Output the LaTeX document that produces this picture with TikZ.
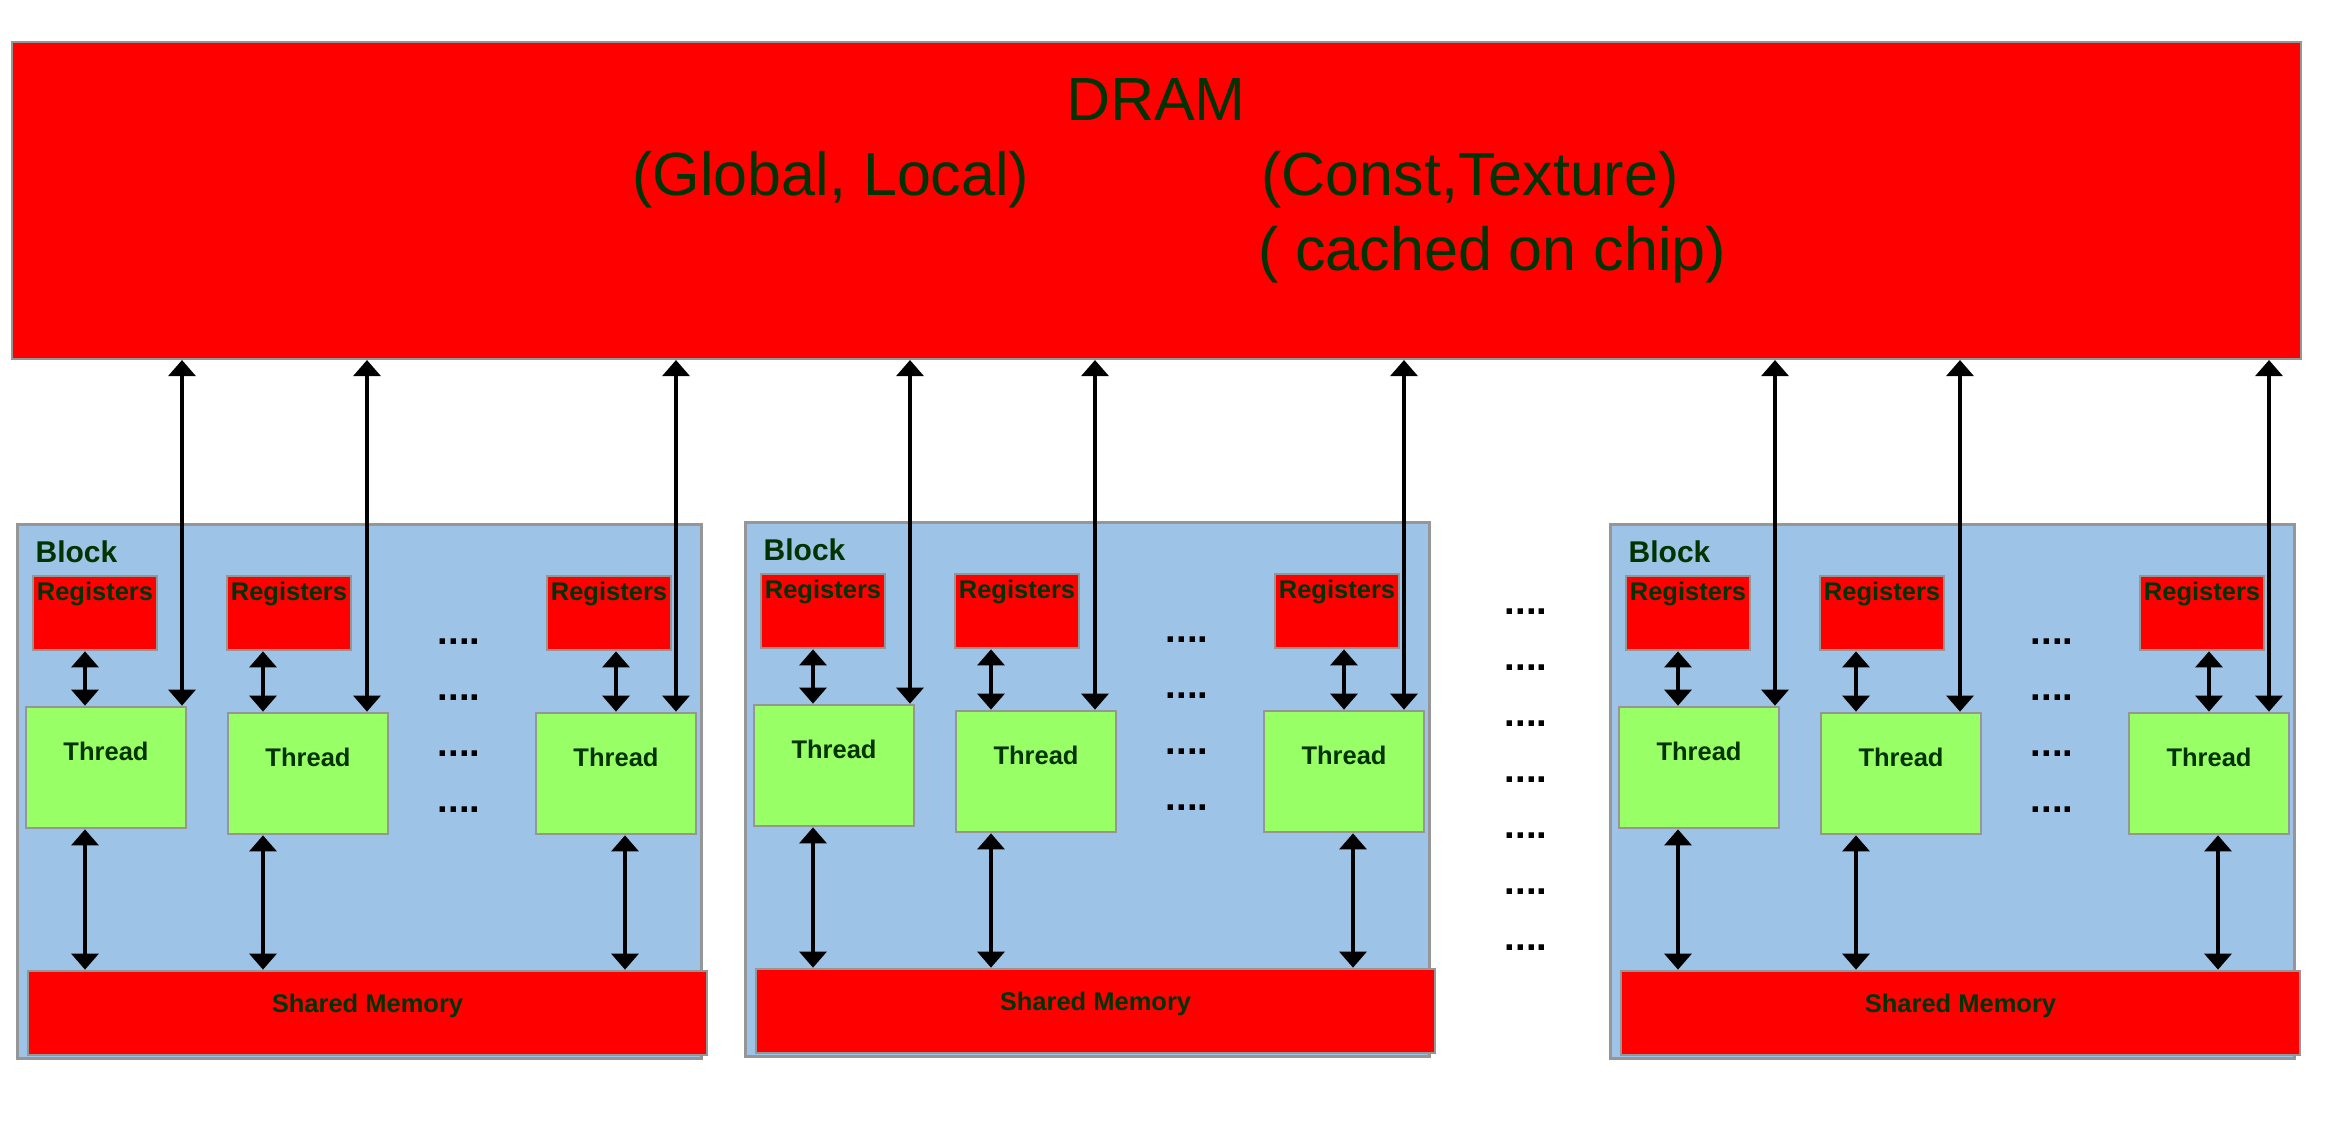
\documentclass[tikz,border=0pt]{standalone}
\usepackage{fontspec}
\setmainfont{Liberation Sans}
\usepackage{xcolor}
\usepackage{tikz}
\usetikzlibrary{arrows.meta, positioning, calc}
\definecolor{memred}{HTML}{FF0000}
\definecolor{blockblue}{HTML}{9DC3E6}
\definecolor{threadgreen}{HTML}{99FF66}
\definecolor{labelgreen}{HTML}{003300}
\definecolor{edgegray}{HTML}{969696}

\tikzset{
    membox/.style={draw=edgegray, line width=0.8pt, fill=memred, inner sep=0pt},
    blockbox/.style={draw=edgegray, line width=0.9pt, fill=blockblue, inner sep=0pt,
        minimum width=205.2pt, minimum height=160.2pt},
    regbox/.style={membox, minimum width=37.2pt, minimum height=22.2pt},
    threadbox/.style={draw=edgegray, line width=0.8pt, fill=threadgreen, inner sep=0pt,
        minimum width=48pt, minimum height=36.3pt},
    sharedbox/.style={membox, minimum width=203.7pt, minimum height=25.2pt},
    bigtext/.style={text=labelgreen, font=\fontsize{18.3}{22}\selectfont, anchor=base, inner sep=0pt},
    smalltext/.style={text=labelgreen, font=\bfseries\fontsize{7.65}{9}\selectfont, anchor=base, inner sep=0pt},
    dotrow/.style={font=\bfseries\fontsize{11.5}{13}\selectfont, anchor=base, inner sep=0pt},
    biarrow/.style={line width=1.3pt, {Triangle[width=8pt,length=4.8pt]}-{Triangle[width=8pt,length=4.8pt]}},
}

\begin{document}
\begin{tikzpicture}[x=0.3pt, y=-0.3pt]
    \useasboundingbox (0,0) rectangle (2345,1127);

    % device memory
    \node[membox, line width=0.6pt, minimum width=686.7pt, minimum height=95.1pt] (dram) at (1156.5,200.5) {};
    \node[bigtext] (dramlbl) at (1156,120) {DRAM};
    \node[bigtext] (globlbl) at (831,195) {(Global, Local)};
    \node[bigtext] (constlbl) at (1470,195) {(Const,Texture)};
    \node[bigtext] (cachelbl) at (1492,270) {( cached on chip)};

    % one block per scope
    \foreach \blk/\dx/\dy in {1/0/0, 2/728/-2, 3/1593/0} {
        \begin{scope}[shift={(\dx,\dy)}]
            \node[blockbox] (blk\blk) at (359,791) {};
            \node[smalltext, anchor=base west, font=\bfseries\fontsize{9}{11}\selectfont] (blklbl\blk) at (35,562) {Block};
            \node[sharedbox] (sm\blk) at (367.5,1013) {};
            \node[smalltext, yshift=-12.9pt] (smlbl\blk) at (sm\blk.north) {Shared Memory};
            \foreach \col/\regx/\thrx/\thry/\ax/\bx/\cx in {1/95/106/767.5/85/85/182,
                    2/289/308/773.5/263/263/367, 3/609/616/773.5/616/625/676} {
                \node[regbox] (r\blk\col) at (\regx,613) {};
                \node[smalltext, yshift=-7.65pt] (rl\blk\col) at (r\blk\col.north) {Registers};
                \node[threadbox] (t\blk\col) at (\thrx,\thry) {};
                \node[smalltext, yshift=-16.5pt] (tl\blk\col) at (t\blk\col.north) {Thread};
                \coordinate (ra\blk\col) at (\ax,0);
                \coordinate (sa\blk\col) at (\bx,0);
                \coordinate (da\blk\col) at (\cx,0);
                \draw[biarrow] (r\blk\col.south -| ra\blk\col) -- (t\blk\col.north -| ra\blk\col);
                \draw[biarrow] (t\blk\col.south -| sa\blk\col) -- (sm\blk.north -| sa\blk\col);
                \draw[biarrow] (dram.south -| da\blk\col) -- (t\blk\col.north -| da\blk\col);
            }
            \foreach \y [count=\i] in {641,697,753,809}
                \node[dotrow] (dots\blk\i) at (459,\y+3) {....};
        \end{scope}
    }

    % more blocks
    \foreach \y [count=\i] in {611,667,723,779,835,891,947}
        \node[dotrow] (gap\i) at (1526,\y+3) {....};
\end{tikzpicture}
\end{document}
